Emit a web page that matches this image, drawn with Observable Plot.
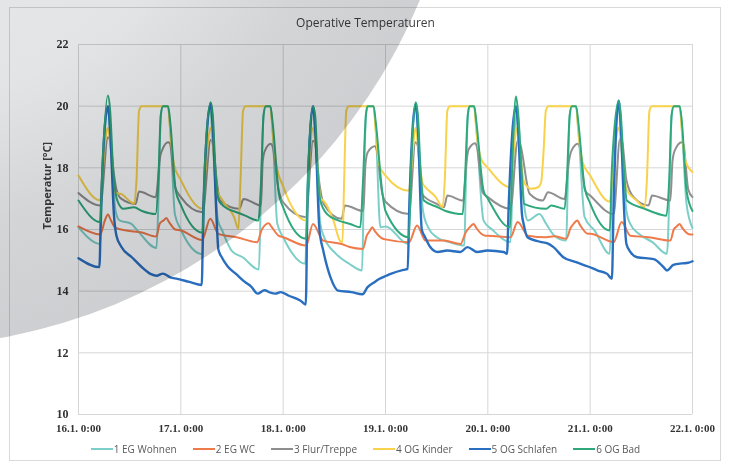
<!DOCTYPE html>
<html>
<head>
<meta charset="utf-8">
<script src="https://cdn.jsdelivr.net/npm/d3@7"></script>
<script src="https://cdn.jsdelivr.net/npm/@observablehq/plot@0.6"></script>
<style>
  html, body { margin: 0; padding: 0; background: #ffffff; }
  body { width: 731px; height: 464px; position: relative; overflow: hidden; }
  #frame { position: absolute; left: 9px; top: 7px; width: 712px; height: 454px; border: 1px solid #d9d9d9; box-sizing: border-box; }
  #title { position: absolute; left: 0; width: 731px; top: 14px; text-align: center; font-family: "Open Sans", sans-serif; font-size: 12px; color: #404040; }
  #chart { position: absolute; left: 0; top: 0; }
  #legend { position: absolute; left: 0; width: 731px; top: 442px; display: flex; justify-content: center; gap: 16px; font-family: "Open Sans", sans-serif; font-size: 10px; color: #595959; }
  #legend .item { display: flex; align-items: center; }
  #legend .sw { width: 22px; height: 2px; margin-right: 1px; }
  #shade { position: absolute; left: -663px; top: -779px; width: 1126px; height: 1126px; border-radius: 50%;
    background: radial-gradient(circle at center, #e8eaec 0%, #e2e4e6 40%, #d4d5d7 56%, #cbcccf 78%, #c5c6c9 100%);
    mix-blend-mode: multiply; pointer-events: none; }
</style>
</head>
<body>
<div id="frame"></div>
<div id="title">Operative Temperaturen</div>
<div id="chart"></div>
<div id="legend"></div>
<div id="shade"></div>
<script>
// x ticks: hours since 16.1. 0:00
const dayTicks = [0, 24, 48, 72, 96, 120, 144];
const dayLabels = ["16.1. 0:00", "17.1. 0:00", "18.1. 0:00", "19.1. 0:00", "20.1. 0:00", "21.1. 0:00", "22.1. 0:00"];
const tempTicks = [10, 12, 14, 16, 18, 20, 22];

const seriesNames = ["1 EG Wohnen", "2 EG WC", "3 Flur/Treppe", "4 OG Kinder", "5 OG Schlafen", "6 OG Bad"];
const seriesColors = ["#7ccfc8", "#ef7a4a", "#8f8f8f", "#f8d24a", "#2a6fbf", "#2fa97c"];

// [hour, °C]
const wohnen = [
  [0,16.07],[5.1,15.53],[5.6,17.5],[6.9,19.9],[7.6,18.6],[8.7,16.6],[9.6,16.3],[12.4,16.18],[13.8,15.97],[18.3,15.4],[18.8,17.2],[19.3,19.7],[19.8,20.0],[21.0,20.0],[21.5,19.3],[22.6,16.5],
  [24,16.0],[29.1,15.2],[29.6,17.5],[30.9,19.9],[31.6,18.6],[32.7,16.3],[33.6,16.0],[36,15.3],[38.5,15.1],[42.3,14.7],[42.8,17.2],[43.4,19.7],[43.9,20.0],[45.0,20.0],[45.5,19.3],[46.6,16.2],
  [48,15.75],[53.2,14.89],[53.7,17.5],[55,19.9],[55.7,18.6],[56.7,16.2],[57.6,15.75],[60.4,15.21],[63.5,14.89],[66.5,14.67],[66.9,17.2],[67.4,19.7],[67.8,20.0],[69.2,20.0],[69.7,19.3],[70.8,16.07],
  [72,16.1],[77.3,15.53],[77.8,17.5],[79.1,19.9],[79.8,18.6],[80.8,16.6],[82,16.07],[84,15.75],[87,15.59],[90.5,15.48],[90.8,17.2],[91.3,19.7],[91.7,20.0],[92.8,20.0],[93.3,19.3],[95,16.29],
  [97,16.0],[101.3,15.59],[101.8,17.5],[102.9,19.9],[103.6,18.6],[104.7,16.6],[105.4,16.29],[108.1,16.5],[109.7,16.18],[111.6,15.8],[114.4,15.64],[114.7,17.2],[115.2,19.7],[115.7,20.0],[116.7,20.0],[117.2,19.3],[118.7,16.4],
  [121,15.97],[124.6,15.21],[125.1,17.5],[126.7,19.9],[127.4,18.6],[128.5,16.6],[129.4,16.18],[131.4,15.86],[134.6,15.59],[138,15.21],[138.6,17.2],[139.1,19.7],[139.6,20.0],[141.0,20.0],[141.5,19.3],[142.6,16.83],[144,16.05]
];
const wc = [
  [0,16.1],[5.1,15.84],[6.2,16.3],[6.9,16.49],[7.6,16.3],[8.7,16.05],[11.2,15.97],[14.9,15.9],[18.2,15.77],[19.1,16.2],[20,16.3],[20.6,16.37],[21.2,16.25],[22.7,16.0],
  [24,15.97],[29,15.66],[30.9,16.35],[32.8,15.86],[37.1,15.75],[41.9,15.59],[43,16.0],[43.8,16.15],[44.6,16.2],[45.2,16.1],[46.9,15.8],
  [48,15.75],[53.4,15.48],[55,16.18],[57.4,15.64],[61.7,15.53],[63.6,15.43],[66.7,15.37],[67.6,15.8],[68.3,15.95],[68.9,16.07],[69.5,15.95],[71.4,15.7],
  [72,15.68],[77.5,15.59],[79.4,16.13],[81.4,15.64],[85.7,15.64],[89.6,15.53],[90.8,15.9],[91.6,16.05],[92.7,16.18],[93.3,16.05],[95.4,15.8],
  [96,15.8],[101.3,15.75],[103,16.24],[105.4,15.8],[109.7,15.75],[111.6,15.78],[114.4,15.7],[115.4,16.05],[116.2,16.2],[117,16.29],[117.6,16.15],[119.5,15.86],
  [120,15.86],[125.5,15.59],[127.4,16.24],[129.4,15.8],[133.7,15.75],[138.8,15.64],[139.6,16.0],[140.3,16.1],[141,16.18],[141.6,16.05],[143.4,15.84],[144,15.84]
];
const flur = [
  [0,17.18],[5.1,16.78],[6.9,18.99],[7.4,18.9],[8.3,17.8],[8.9,17.3],[10,17.0],[13.4,16.83],[14.2,17.23],[18.1,17.05],[19.2,18.4],[19.7,18.6],[21,18.83],[21.4,18.8],[22.7,17.37],
  [24,17.05],[29.1,16.56],[31,18.9],[31.5,18.8],[32.4,17.6],[33.2,16.94],[37.7,16.67],[38.7,16.99],[42.8,16.78],[43.2,18.2],[43.7,18.55],[45.1,18.78],[45.5,18.7],[46.9,17.3],
  [48,16.88],[53.3,16.4],[55,18.88],[55.5,18.8],[56.4,17.6],[57.5,16.83],[61.7,16.35],[62.5,16.78],[66.8,16.6],[67.3,18.1],[67.8,18.5],[69.5,18.7],[69.9,18.6],[71.2,17.2],
  [72,16.9],[77.5,16.5],[79,18.83],[79.5,18.75],[80.5,17.16],[84,16.83],[85.7,16.72],[86.5,17.1],[90.2,16.94],[91,18.2],[91.5,18.6],[93,18.8],[93.4,18.7],[94.8,17.2],
  [96,17.05],[101.3,16.67],[103,18.88],[103.5,18.8],[105.8,17.16],[108.9,16.94],[110.1,17.21],[114,16.99],[115,18.2],[115.6,18.55],[117.1,18.78],[117.5,18.7],[118.8,17.26],
  [120,17.1],[125.5,16.5],[127,18.94],[127.5,18.85],[128.5,17.6],[130.2,17.05],[133.7,16.78],[134.5,17.1],[138.8,16.94],[139.3,18.2],[139.8,18.55],[141.5,18.83],[141.9,18.75],[143.0,17.3],[144,17.05]
];
const kinder = [
  [0,17.75],[5.1,16.94],[5.6,17.8],[6.9,19.3],[7.6,18.6],[8.6,17.2],[10,17.15],[13.1,16.84],[13.6,17.6],[14.2,19.85],[14.8,20.0],[21.0,20.0],[21.5,19.2],[22.4,18.1],
  [24,17.6],[29.1,16.67],[29.6,17.6],[31,19.3],[31.6,18.6],[32.6,17.26],[34.1,16.88],[36.5,16.4],[37.5,16.02],[38,17.6],[38.6,19.85],[39.2,20.0],[45.0,20.0],[45.5,19.2],[46.4,18.1],
  [48,17.4],[53.4,16.29],[53.9,17.6],[55,19.3],[55.7,18.6],[56.8,17.0],[57.4,16.94],[59.8,16.29],[61.3,15.64],[61.9,15.59],[62.3,17.6],[62.8,19.85],[63.4,20.0],[69.2,20.0],[69.7,19.2],[70.5,18.1],
  [72,17.75],[77.5,17.26],[78,17.9],[79.1,19.3],[79.7,18.6],[80.7,17.5],[81.4,17.37],[83.8,17.05],[85.4,16.72],[85.9,17.6],[86.5,19.85],[87.1,20.0],[92.8,20.0],[93.3,19.2],[94.4,18.3],
  [96,18.0],[101.3,17.37],[101.7,17.9],[102.6,19.3],[103.4,18.6],[104.6,17.5],[106.2,17.32],[107.8,17.37],[108.5,17.53],[109.1,18.6],[109.6,19.85],[110.2,20.0],[116.7,20.0],[117.2,19.2],[118.2,18.2],
  [120,17.75],[124.6,16.9],[125.1,17.6],[126.7,19.3],[127.4,18.6],[128.5,17.3],[130.9,16.94],[132.8,16.72],[133.3,17.6],[133.9,19.85],[134.5,20.0],[141.0,20.0],[141.5,19.2],[142.4,18.2],[144,17.86]
];
const schlafen = [
  [0,15.07],[4.9,14.78],[5.3,16.8],[6.9,20.0],[7.5,19.0],[8.3,16.5],[8.9,15.8],[10,15.45],[12.5,15.1],[14.7,14.8],[17,14.55],[18.3,14.5],[19.8,14.57],[21.5,14.45],[23.2,14.4],
  [26,14.3],[28.9,14.2],[29.3,16.8],[31,20.08],[31.6,19.0],[32.4,16.3],[32.8,15.35],[33.6,15.1],[35,14.8],[37,14.55],[39,14.3],[40.5,14.15],[42,13.92],[43.6,14.03],[45,13.95],[46.2,13.92],[47.4,13.97],
  [49.2,13.86],[52,13.7],[53.3,13.57],[53.7,16.8],[55,20.0],[55.6,19.0],[56.5,16.0],[57.4,15.32],[59.1,14.45],[60.9,14.02],[64,13.97],[66.6,13.9],[67.8,14.13],[69.4,14.29],[70.6,14.4],[72.2,14.5],[73.2,14.56],
  [76.2,14.69],[77.2,14.72],[77.6,16.8],[79.1,20.08],[79.7,19.0],[80.5,16.0],[81.3,15.75],[82.5,15.43],[84.2,15.27],[86.5,15.32],[89.6,15.27],[91.2,15.43],[93.5,15.27],[95.9,15.32],
  [99.7,15.27],[100.5,15.21],[100.9,16.8],[102.6,20.0],[103.2,19.0],[104,16.5],[104.4,16.18],[105.3,15.75],[108.3,15.6],[110,15.55],[111.4,15.43],[113.7,15.1],[116.7,14.94],[119.5,14.8],
  [121.8,14.67],[124,14.56],[125.1,14.4],[125.5,16.8],[126.7,20.18],[127.3,19.0],[128,16.5],[128.5,15.53],[129.5,15.26],[131,15.1],[134.9,15.04],[137.2,14.78],[138,14.67],[139.5,14.85],[141.5,14.9],[143,14.92],[144,14.97]
];
const bad = [
  [0,16.94],[5.1,16.24],[5.6,18],[6.9,20.35],[7.4,19.9],[8.1,18.0],[9.1,16.94],[10.6,16.67],[13,16.72],[14.9,16.6],[18.1,16.5],[18.7,17.5],[19.3,19.7],[19.8,20.0],[21.0,20.0],[21.5,19.5],[22.8,17.26],
  [24,16.8],[29.1,15.9],[29.6,18],[31,20.13],[31.5,19.7],[32.1,18.0],[32.9,16.94],[34.4,16.72],[37.1,16.56],[39.1,16.45],[42.2,16.29],[42.8,17.5],[43.4,19.7],[43.9,20.0],[45,20.0],[45.5,19.5],[47,17.16],
  [48,16.72],[53.4,15.7],[53.9,18],[55,20.0],[55.5,19.7],[56.1,18.0],[56.7,16.94],[58.3,16.5],[61,16.29],[63.7,16.18],[66.1,16.07],[66.7,17.5],[67.4,19.7],[67.8,20.0],[69.2,20.0],[69.7,19.5],[71.2,17.26],
  [72,16.6],[77.5,15.75],[78,18],[79.1,20.13],[79.6,19.7],[80.2,18.0],[81,16.94],[84.3,16.72],[86.1,16.6],[88.1,16.53],[90.1,16.5],[90.6,17.5],[91.3,19.7],[91.7,20.0],[92.8,20.0],[93.3,19.5],[95,17.26],
  [96,17.0],[101.2,16.07],[101.7,18],[102.6,20.31],[103.1,19.8],[103.8,18.2],[104.5,16.83],[109.7,16.67],[110.9,16.78],[114,16.67],[114.5,17.5],[115.2,19.7],[115.7,20.0],[116.7,20.0],[117.2,19.5],[118.7,17.37],
  [120,16.85],[124.6,15.97],[125.1,18],[126.7,20.18],[127.2,19.7],[127.9,18.0],[128.6,16.94],[132.8,16.67],[134.8,16.56],[137.9,16.45],[138.5,17.5],[139.1,19.7],[139.6,20.0],[141,20.0],[141.5,19.5],[142.6,17.26],[144,16.6]
];

const seriesData = [wohnen, wc, flur, kinder, schlafen, bad];
const widths = [2, 2, 2, 2, 2.4, 2];

const lineMarks = seriesData.map((data, i) =>
  Plot.line(data, {
    x: d => d[0], y: d => d[1],
    stroke: seriesColors[i], strokeWidth: widths[i],
    curve: "monotone-x", strokeLinejoin: "round"
  })
);

const chart = Plot.plot({
  width: 731,
  height: 440,
  marginTop: 44,
  marginBottom: 26,
  marginLeft: 78,
  marginRight: 39,
  style: { background: "transparent", overflow: "visible" },
  x: { domain: [0, 144] },
  y: { domain: [10, 22] },
  marks: [
    Plot.gridX(dayTicks, { stroke: "#d6d6d6", strokeOpacity: 1 }),
    Plot.gridY(tempTicks, { stroke: "#d6d6d6", strokeOpacity: 1 }),
    Plot.axisX({
      ticks: dayTicks, tickSize: 0, tickPadding: 10, label: null,
      tickFormat: d => dayLabels[dayTicks.indexOf(d)],
      fontSize: 11, fontWeight: "bold", fontFamily: "Liberation Serif", fill: "#333"
    }),
    Plot.axisY({
      ticks: tempTicks, tickSize: 0, tickPadding: 10, label: null,
      fontSize: 12, fontWeight: "bold", fontFamily: "Liberation Serif", fill: "#333"
    }),
    Plot.text(["Temperatur [°C]"], {
      frameAnchor: "left", rotate: -90, dx: -31, text: d => d,
      fontSize: 11, fontWeight: "bold", fontFamily: "Open Sans", fill: "#404040"
    }),
    ...lineMarks
  ]
});
document.getElementById("chart").appendChild(chart);

const legend = document.getElementById("legend");
seriesNames.forEach((name, i) => {
  const item = document.createElement("div");
  item.className = "item";
  const sw = document.createElement("span");
  sw.className = "sw";
  sw.style.background = seriesColors[i];
  const label = document.createElement("span");
  label.textContent = name;
  item.appendChild(sw);
  item.appendChild(label);
  legend.appendChild(item);
});
</script>
</body>
</html>
